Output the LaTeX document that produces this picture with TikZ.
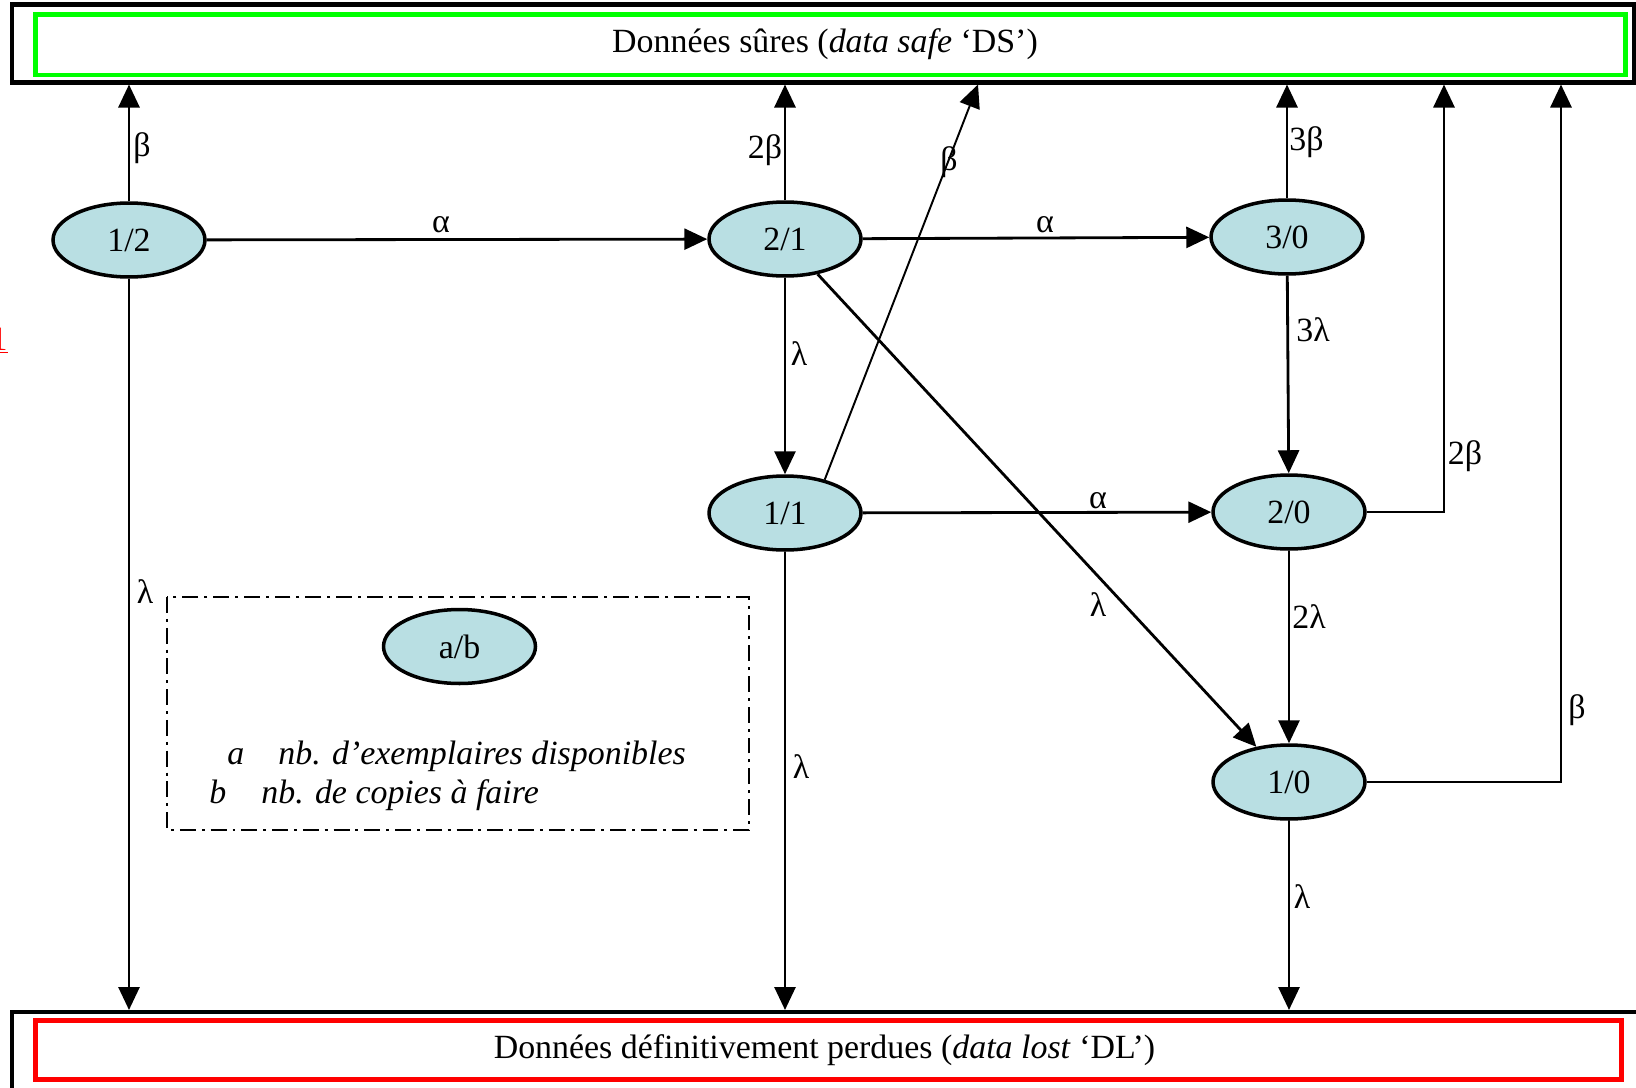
\documentclass[tikz,border=0pt]{standalone}
\usepackage{fontspec}
\setmainfont{Liberation Serif}
\usetikzlibrary{arrows.meta,shapes.geometric}
\definecolor{bleuetat}{RGB}{185,223,227}
\definecolor{vertds}{RGB}{0,255,0}
\definecolor{rougedl}{RGB}{255,0,0}
\begin{document}
\begin{tikzpicture}[x=0.02cm,y=-0.02cm,font=\fontsize{19.3}{22}\selectfont,
  etat/.style={ellipse,draw,line width=2pt,fill=bleuetat,minimum width=3.04cm,minimum height=1.48cm,inner sep=0pt},
  fl/.style={-{Triangle[length=0.46cm,width=0.42cm]},line width=1.6pt},
  lbl/.style={inner sep=0pt}]
\useasboundingbox (0,0) rectangle (1636,1088);
\node[draw,line width=2.3pt,minimum width=32.45cm,minimum height=1.56cm,inner sep=0pt] (ds) at (823,43.5) {};
\node[draw=vertds,line width=2.8pt,minimum width=31.81cm,minimum height=1.21cm,inner sep=0pt] (dsin) at (830.75,44.75) {};
\node (tds) at (825,44) {Données sûres (\textit{data safe} ‘DS’)};
\node[draw,line width=2.3pt,minimum width=32.55cm,minimum height=1.66cm,inner sep=0pt] (dl) at (826,1053.5) {};
\node[draw=rougedl,line width=3pt,minimum width=31.74cm,minimum height=1.18cm,inner sep=0pt] (dlin) at (828.5,1050) {};
\node (tdl) at (824.5,1050) {Données définitivement perdues (\textit{data lost} ‘DL’)};
\node[text=red,anchor=base east,inner sep=0pt] (marque) at (8,350) {\underline{1}};
\node[etat] (n12) at (129,240) {1/2};
\node[etat] (n21) at (785,239) {2/1};
\node[etat] (n30) at (1287,237) {3/0};
\node[etat] (n11) at (785,513) {1/1};
\node[etat] (n20) at (1289,512) {2/0};
\node[etat] (n10) at (1289,782) {1/0};
\coordinate (d11) at (978,0 |- ds.south);
\coordinate (d20) at (1444,0 |- ds.south);
\coordinate (d10) at (1561,0 |- ds.south);
\draw[fl] (n12) -- (n12 |- ds.south);
\draw[fl] (n12) -- (n21);
\draw[fl] (n12) -- (n12 |- dl.north);
\draw[fl] (n21) -- (n21 |- ds.south);
\draw[fl] (n21) -- (n30);
\draw[fl] (n21) -- (n11);
\draw[fl] (n21) -- (n10);
\draw[fl,line width=1.1pt] (n11.40) -- (d11);
\draw[fl] (n11) -- (n20);
\draw[fl] (n11) -- (n11 |- dl.north);
\draw[fl] (n30) -- (n30 |- ds.south);
\draw[fl] (n30) -- (n20);
\draw[fl] (n20.east) -| (d20);
\draw[fl] (n20) -- (n10);
\draw[fl] (n10.east) -| (d10);
\draw[fl] (n10) -- (n10 |- dl.north);
\node[lbl] (b1) at (142,148) {β};
\node[lbl] (b2) at (765,150) {2β};
\node[lbl] (a1) at (441,224.5) {α};
\node[lbl] (b3) at (949,162) {β};
\node[lbl] (a2) at (1045,224.5) {α};
\node[lbl] (b4) at (1306.5,142.5) {3β};
\node[lbl] (l1) at (799,354) {λ};
\node[lbl] (l2) at (1313,330) {3λ};
\node[lbl] (b5) at (1465,456) {2β};
\node[lbl] (a3) at (1098,501) {α};
\node[lbl] (l3) at (1098,605) {λ};
\node[lbl] (l4) at (1309,617) {2λ};
\node[lbl] (b6) at (1577,710) {β};
\node[lbl] (l5) at (145,592) {λ};
\node[lbl] (l6) at (801,767) {λ};
\node[lbl] (l7) at (1302,897) {λ};
\draw[line width=1.4pt,dash pattern=on 9pt off 3.4pt on 1.7pt off 3.4pt] (167,597) rectangle (749,830);
\node[etat] (nab) at (459.5,646.5) {a/b};
\node[lbl,anchor=base west] (la) at (227,764) {\itshape a};
\node[lbl,anchor=base west] (ta) at (278,764) {\itshape nb. d’exemplaires disponibles};
\node[lbl,anchor=base west] (lb) at (209,803) {\itshape b};
\node[lbl,anchor=base west] (tb) at (261,803) {\itshape nb. de copies à faire};
\end{tikzpicture}
\end{document}
